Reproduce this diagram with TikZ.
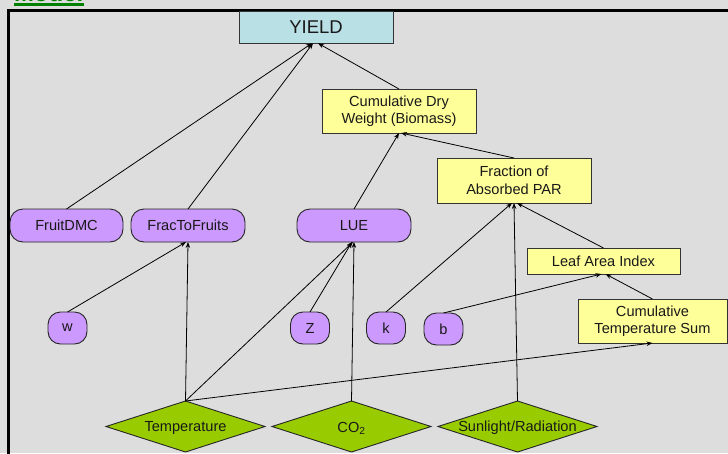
\documentclass[tikz,border=0pt]{standalone}
\usepackage{fontspec}
\setmainfont{Liberation Sans}
\usetikzlibrary{shapes.geometric,arrows.meta}
\definecolor{bg}{HTML}{DDDDDD}
\definecolor{yieldc}{HTML}{B9E0E4}
\definecolor{yel}{HTML}{FFFF99}
\definecolor{pur}{HTML}{CC99FF}
\definecolor{grn}{HTML}{99CC00}
\definecolor{ttl}{HTML}{008000}
\begin{document}
\begin{tikzpicture}[x=1pt,y=-1pt,
  every node/.style={font=\fontsize{14.6}{17.5}\selectfont, text=black!90, inner sep=0pt, outer sep=0pt, align=center},
  box/.style={draw=black!80, line width=0.9pt, fill=yel, rectangle},
  pill/.style={draw=black!85, line width=0.9pt, fill=pur, rounded corners=13pt, minimum height=33pt},
  smallpill/.style={draw=black!85, line width=0.9pt, fill=pur, rounded corners=12.5pt, minimum width=39pt, minimum height=32pt},
  dia/.style={diamond, draw=black!85, line width=0.9pt, fill=grn, minimum width=159pt, minimum height=51pt},
  arr/.style={-{Stealth[length=6pt,width=4.5pt]}, line width=0.8pt}]

\clip (0,0) rectangle (728,453);
\fill[bg] (0,0) rectangle (728,453);
\draw[line width=2.3pt] (8.5,10.5) rectangle (760,480);

% title (cut off at top, as in the reference)
\node[font=\fontsize{24}{24}\selectfont\bfseries, text=ttl, anchor=base west] (title) at (14,1) {Model};
\draw[ttl, line width=2.4pt] (14,4.5) -- (84,4.5);

% boxes
\node[box, fill=yieldc, minimum width=154pt, minimum height=31.5pt, font=\fontsize{18.5}{20}\selectfont] (yield) at (316,27.5) {YIELD};
\node[box, minimum width=154pt, minimum height=44pt] (cdw) at (399,111) {Cumulative Dry\\Weight (Biomass)};
\node[box, minimum width=154pt, minimum height=45pt] (fpar) at (514,180.5) {Fraction of\\Absorbed PAR};
\node[box, minimum width=153pt, minimum height=26pt] (lai) at (603.5,261) {Leaf Area Index};
\node[box, minimum width=149pt, minimum height=44pt] (cts) at (652.5,321) {Cumulative\\Temperature Sum};

% purple
\node[pill, minimum width=113pt] (fdmc) at (66.5,225.5) {FruitDMC};
\node[pill, minimum width=114pt] (ftf) at (188,225.5) {FracToFruits};
\node[pill, minimum width=114pt] (lue) at (354,225.5) {LUE};
\node[smallpill] (w) at (67.5,328) {\raisebox{-1pt}{w}};
\node[smallpill] (z) at (310,328) {\raisebox{-1pt}{Z}};
\node[smallpill] (k) at (386,328) {\raisebox{-1pt}{k}};
\node[smallpill] (b) at (443.5,329) {\raisebox{-1pt}{b}};

% diamonds
\node[dia] (temp) at (185.5,426.5) {};
\node (tempt) at ([yshift=-1.5pt]temp.center) {Temperature};
\node[dia] (co2) at (351.5,426.5) {};
\node (co2t) at ([yshift=-1.5pt]co2.center) {CO\textsubscript{2}};
\node[dia] (sun) at (517.5,426.5) {};
\node (sunt) at ([yshift=-1.5pt]sun.center) {Sunlight/Radiation};

% arrows
\draw[arr] (fdmc.north) -- ([xshift=-4pt]yield.south);
\draw[arr] (ftf.north) -- ([xshift=-3pt]yield.south);
\draw[arr] (cdw.north) -- ([xshift=2pt]yield.south);
\draw[arr] (lue.north) -- (cdw.south);
\draw[arr] (fpar.north) -- ([xshift=2pt]cdw.south);
\draw[arr] (lai.north) -- ([xshift=3pt]fpar.south);
\draw[arr] (k.north) -- ([xshift=-2pt]fpar.south);
\draw[arr] (sun.north) -- (fpar.south);
\draw[arr] (b.north) -- ([xshift=-2pt]lai.south);
\draw[arr] (cts.north) -- ([xshift=2pt]lai.south);
\draw[arr] (temp.north) -- (cts.south);
\draw[arr] (temp.north) -- (ftf.south);
\draw[arr] (temp.north) -- ([xshift=-1pt]lue.south);
\draw[arr] (w.north) -- ([xshift=-2pt]ftf.south);
\draw[arr] (z.north) -- ([xshift=-2pt]lue.south);
\draw[arr] (co2.north) -- (lue.south);
\end{tikzpicture}
\end{document}
